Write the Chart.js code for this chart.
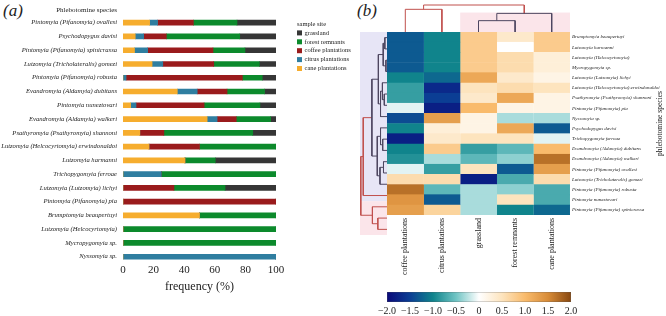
<!DOCTYPE html>
<html lang="en">
<head>
<meta charset="UTF-8">
<title>Phlebotomine species by sample site</title>
<script src="https://cdn.jsdelivr.net/npm/chart.js"></script>
<style>
    body { margin: 0; background: #fff; width: 666px; height: 316px; overflow: hidden; position: relative; font-family: "Liberation Serif", serif; }
    canvas { position: absolute; }
    .panel-tag { position: absolute; font-style: italic; font-size: 17px; color: #222; }
</style>
</head>
<body>
<div class="panel-tag" style="left:3px; top:1px;">(a)</div>
<div class="panel-tag" style="left:357px; top:1px;">(b)</div>
<canvas id="barChart" width="390" height="316" style="left:0; top:0;"></canvas>
<canvas id="colDendro" width="200" height="40" style="left:380px; top:0;"></canvas>
<canvas id="rowDendro" width="40" height="230" style="left:355px; top:20px;"></canvas>
<canvas id="heatChart" width="286" height="270" style="left:380px; top:20px;"></canvas>
<canvas id="colorBar" width="230" height="32" style="left:370px; top:284px;"></canvas>
<script>
// ---- panel (a): frequency of each species per sample site ----
const barSpecies = [
    'Pintomyia (Pifanomyia) ovallesi', 'Psychodopygus davisi', 'Pintomyia (Pifanomyia) spinicrassa',
    'Lutzomyia (Tricholateralis) gomezi', 'Pintomyia (Pifanomyia) robusta', 'Evandromyia (Aldamyia) dubitans',
    'Pintomyia nuneztovari', 'Evandromyia (Aldamyia) walkeri', 'Psathyromyia (Psathyromyia) shannoni',
    'Lutzomyia (Helcocyrtomyia) erwindonaldoi', 'Lutzomyia harmanni', 'Trichopygomyia ferroae',
    'Lutzomyia (Lutzomyia) lichyi', 'Pintomyia (Pifanomyia) pia', 'Brumptomyia beaupertuyi',
    'Lutzomyia (Helcocyrtomyia)', 'Mycropygomyia sp.', 'Nyssomyia sp.'
];
const caneFreq      = [17.4, 8.0, 7.5, 19.0, 0, 35.5, 5.0, 55.0, 11.0, 17.0, 40.5, 0, 0, 0, 50, 0, 0, 0];
const citrusFreq    = [5.2, 5.5, 8.6, 7.0, 2.0, 13.0, 3.5, 6.5, 0, 0, 0, 25, 0, 0, 0, 0, 0, 100];
const coffeeFreq    = [23.4, 14.8, 42.7, 33.3, 76.0, 19.5, 44.5, 12.5, 15.7, 33.0, 0, 0, 33.3, 100, 0, 0, 0, 0];
const forestFreq    = [28.5, 48.0, 20.9, 29.8, 13.0, 24.5, 36.5, 22.5, 58.1, 50.0, 19.8, 75, 33.4, 0, 50, 100, 100, 0];
const grasslandFreq = [25.5, 23.7, 20.3, 10.9, 9.0, 7.5, 10.5, 3.5, 15.2, 0, 39.7, 0, 33.3, 0, 0, 0, 0, 0];
const freqTicks = [0, 20, 40, 60, 80, 100];

// ---- panel (b): standardised abundance, clustered ----
const heatSpecies = [
    'Brumptomyia beaupertuyi', 'Lutzomyia harmanni', 'Lutzomyia (Helcocyrtomyia)', 'Mycropygomyia sp.',
    'Lutzomyia (Lutzomyia) lichyi', 'Lutzomyia (Helcocyrtomyia) erwindonaldoi', 'Psathyromyia (Psathyromyia) shannoni',
    'Pintomyia (Pifanomyia) pia', 'Nyssomyia sp.', 'Psychodopygus davisi', 'Trichopygomyia ferroae',
    'Evandromyia (Aldamyia) dubitans', 'Evandromyia (Aldamyia) walkeri', 'Pintomyia (Pifanomyia) ovallesi',
    'Lutzomyia (Tricholateralis) gomezi', 'Pintomyia (Pifanomyia) robusta', 'Pintomyia nuneztovari',
    'Pintomyia (Pifanomyia) spinicrassa'
];
const heatSites = ['coffee plantations', 'citrus plantations', 'grassland', 'forest remnants', 'cane plantations'];
const coffeeZ = [-1.3, -1.3, -1.3, -1.3, -1.0, -0.8, -0.8, -0.1, -1.4, -1.0, -1.8, -1.0, -0.9, -0.1, 0.6, 1.7, 1.4, 1.3];
const citrusZ = [-1.0, -1.0, -1.0, -1.0, -1.2, -1.7, -1.5, -1.8, 1.3, 0.3, 0.4, 0.8, -0.3, -0.8, 0.6, -0.6, -1.3, 0.7];
const grassZ  = [0.8, 0.8, 0.8, 0.8, 1.2, 0.5, 0.4, 1.0, 0.2, 0.2, 0.5, -0.8, -0.6, 0.5, -1.8, -0.3, -0.3, -0.3];
const forestZ = [0.4, 0.0, 0.6, 0.6, 0.4, 0.6, 1.2, 0.2, -0.3, 1.2, 0.5, -0.6, -0.4, -1.3, -0.7, -0.4, 0.5, -1.0];
const caneZ   = [0.8, 0.8, 0.3, 0.3, 0.2, 0.5, 0.2, 0.2, -0.3, -1.3, -0.1, 1.0, 1.7, 1.3, 0.6, -0.7, -0.7, -1.2];
const colorbarTicks = [-2, -1.5, -1, -0.5, 0, 0.5, 1, 1.5, 2];

// dendrograms: [childA, childB, height, colour]; children >= n are earlier merges
const RED = '#c0504d', DARK = '#4d4660';
const siteLinks = [
    [2, 3, 4.2, DARK], [5, 4, 6.9, DARK], [0, 1, 8.4, RED], [7, 6, 10, RED]
];
const speciesLinks = [
    [2, 3, 0.4, DARK], [0, 1, 0.8, DARK], [19, 18, 1.4, DARK],
    [5, 6, 1.0, DARK], [4, 21, 1.7, DARK], [22, 7, 2.4, DARK], [20, 23, 3.2, DARK],
    [9, 10, 1.6, DARK], [8, 25, 2.4, DARK], [11, 12, 1.3, DARK], [27, 13, 2.6, DARK],
    [26, 28, 3.6, DARK], [24, 29, 5.6, DARK], [30, 14, 8.8, RED],
    [16, 17, 3.4, RED], [15, 32, 5.4, RED], [31, 33, 9.7, RED]
];

Chart.defaults.font.family = '"Liberation Serif", "Times New Roman", serif';
Chart.defaults.color = '#222';
Chart.defaults.animation = false;
Chart.defaults.plugins.legend.display = false;
Chart.defaults.plugins.tooltip.enabled = false;

// ---------- panel (a) ----------
const sideLegend = {
    id: 'sideLegend',
    afterDraw(chart, args, opts) {
        const { ctx, chartArea, scales } = chart;
        ctx.save();
        ctx.textBaseline = 'middle';
        ctx.font = '7px "Liberation Serif"';
        ctx.fillStyle = '#222';
        ctx.textAlign = 'right';
        ctx.fillText('Phlebotomine species', scales.y.right - 6, 10);
        ctx.textAlign = 'left';
        ctx.font = '6.5px "Liberation Serif"';
        const x = chartArea.right + 21;
        let y = 24;
        ctx.fillText('sample site', x, y);
        chart.data.datasets.slice().reverse().forEach(d => {
            y += 8.9;
            ctx.fillStyle = d.backgroundColor;
            ctx.fillRect(x, y - 2.5, 5, 5);
            ctx.fillStyle = '#222';
            ctx.fillText(d.label, x + 7.5, y);
        });
        ctx.restore();
    }
};

new Chart(document.getElementById('barChart'), {
    type: 'bar',
    data: {
        labels: barSpecies,
        datasets: [
            { label: 'cane plantations', data: caneFreq, backgroundColor: '#f6ad2e' },
            { label: 'citrus plantations', data: citrusFreq, backgroundColor: '#2f7ea0' },
            { label: 'coffee plantations', data: coffeeFreq, backgroundColor: '#9a1b1c' },
            { label: 'forest remnants', data: forestFreq, backgroundColor: '#0c8a2c' },
            { label: 'grassland', data: grasslandFreq, backgroundColor: '#363636' }
        ]
    },
    options: {
        responsive: false,
        indexAxis: 'y',
        barThickness: 5,
        layout: { padding: { top: 15.8, right: 114, left: 0, bottom: 0 } },
        scales: {
            x: {
                stacked: true, min: 0, max: 100,
                afterBuildTicks: s => { s.ticks = freqTicks.map(v => ({ value: v })); },
                grid: { display: false, drawTicks: false }, border: { display: false },
                ticks: { font: { size: 11 }, padding: 0 },
                title: { display: true, text: 'frequency (%)', font: { size: 12 }, padding: { top: 0, bottom: 22 } },
                afterFit: s => { s.height = 52.4; }
            },
            y: {
                stacked: true,
                grid: { display: false, drawTicks: false }, border: { display: false },
                ticks: { autoSkip: false, font: { size: 6.6, style: 'italic' }, padding: 6 },
                afterFit: s => { s.width = 123; }
            }
        }
    },
    plugins: [sideLegend]
});

// ---------- panel (b) ----------
const zStops = [
    [-2, [10, 10, 122]], [-1.5, [11, 62, 148]], [-1, [16, 132, 140]], [-0.5, [112, 196, 196]],
    [0, [255, 255, 255]], [0.5, [253, 228, 190]], [1, [249, 187, 108]], [1.5, [216, 140, 56]], [2, [136, 72, 16]]
];
function zColor(z) {
    z = Math.max(-2, Math.min(2, z));
    for (let i = 1; i < zStops.length; i++) {
        if (z <= zStops[i][0]) {
            const [z0, c0] = zStops[i - 1], [z1, c1] = zStops[i];
            const t = (z - z0) / (z1 - z0);
            const c = c0.map((v, k) => Math.round(v + (c1[k] - v) * t));
            return `rgb(${c[0]},${c[1]},${c[2]})`;
        }
    }
}

function dendrogram(nLeaves, links) {
    const pos = [], hgt = [];
    for (let i = 0; i < nLeaves; i++) { pos.push(i + 0.5); hgt.push(0); }
    return links.map(([a, b, h, color]) => {
        const pts = [[pos[a], hgt[a]], [pos[a], h], [pos[b], h], [pos[b], hgt[b]]];
        pos.push((pos[a] + pos[b]) / 2);
        hgt.push(h);
        return { pts, color };
    });
}

const clusterBg = {
    id: 'clusterBg',
    beforeDatasetsDraw(chart, args, opts) {
        const { ctx, chartArea, scales } = chart;
        ctx.save();
        opts.bands.forEach(([from, to, color]) => {
            ctx.fillStyle = color;
            if (opts.axis === 'y') {
                const y0 = scales.y.getPixelForValue(from), y1 = scales.y.getPixelForValue(to);
                ctx.fillRect(chartArea.left, y0, chartArea.right - chartArea.left, y1 - y0);
            } else {
                const x0 = scales.x.getPixelForValue(from), x1 = scales.x.getPixelForValue(to);
                const yTop = scales.y.getPixelForValue(opts.hmax);
                ctx.fillRect(x0, yTop, x1 - x0, chartArea.bottom - yTop);
            }
        });
        ctx.restore();
    }
};

// column dendrogram (sites)
new Chart(document.getElementById('colDendro'), {
    type: 'scatter',
    data: {
        datasets: dendrogram(heatSites.length, siteLinks).map(l => ({
            data: l.pts.map(([p, h]) => ({ x: p, y: h })),
            showLine: true, borderColor: l.color, borderWidth: 1, pointRadius: 0, clip: false
        }))
    },
    options: {
        responsive: false,
        layout: { padding: { left: 7, right: 10, top: 5, bottom: 8 } },
        scales: {
            x: { display: false, min: 0, max: heatSites.length },
            y: { display: false, min: 0, max: 10 }
        },
        plugins: { clusterBg: { axis: 'x', hmax: 7.2, bands: [[2, 5, '#fbe5ea']] } }
    },
    plugins: [clusterBg]
});

// row dendrogram (species)
new Chart(document.getElementById('rowDendro'), {
    type: 'scatter',
    data: {
        datasets: dendrogram(heatSpecies.length, speciesLinks).map(l => ({
            data: l.pts.map(([p, h]) => ({ x: h, y: p })),
            showLine: true, borderColor: l.color, borderWidth: 1, pointRadius: 0, clip: false
        }))
    },
    options: {
        responsive: false,
        layout: { padding: { left: 5, right: 8, top: 12, bottom: 15 } },
        scales: {
            x: { display: false, min: 0, max: 10, reverse: true },
            y: { display: false, min: 0, max: heatSpecies.length, reverse: true }
        },
        plugins: { clusterBg: { axis: 'y', bands: [[0, 15, '#e7e5f6'], [15, 18, '#fbe5ea']] } }
    },
    plugins: [clusterBg]
});

// heatmap: one stacked bar per site column, one unit per species row
const rightTitle = {
    id: 'rightTitle',
    afterDraw(chart) {
        const { ctx, chartArea } = chart;
        ctx.save();
        ctx.translate(chart.width - 6, (chartArea.top + chartArea.bottom) / 2);
        ctx.rotate(-Math.PI / 2);
        ctx.font = '7.5px "Liberation Serif"';
        ctx.fillStyle = '#222';
        ctx.textAlign = 'center';
        ctx.textBaseline = 'middle';
        ctx.fillText('phlebotomine species', 0, 0);
        ctx.restore();
    }
};
const siteZ = [coffeeZ, citrusZ, grassZ, forestZ, caneZ];
new Chart(document.getElementById('heatChart'), {
    type: 'bar',
    data: {
        labels: heatSpecies,
        datasets: siteZ.map((zs, i) => ({
            label: heatSites[i],
            data: zs.map(() => 1),
            backgroundColor: zs.map(zColor),
            borderColor: zs.map(zColor),
            borderWidth: 0.4,
            barPercentage: 1, categoryPercentage: 1
        }))
    },
    options: {
        responsive: false,
        indexAxis: 'y',
        layout: { padding: { left: 7, top: 12, right: 0, bottom: 0 } },
        scales: {
            x: {
                stacked: true, min: 0, max: heatSites.length,
                afterBuildTicks: s => { s.ticks = heatSites.map((_, i) => ({ value: i + 0.5 })); },
                grid: { display: false, drawTicks: false }, border: { display: false },
                ticks: {
                    autoSkip: false, minRotation: 90, maxRotation: 90, padding: 3,
                    font: { size: 8 }, callback: v => heatSites[Math.floor(v)]
                },
                afterFit: s => { s.height = 75; }
            },
            y: {
                stacked: true, position: 'right',
                grid: { display: false, drawTicks: false }, border: { display: false },
                ticks: { autoSkip: false, padding: 2, font: { size: 5, style: 'italic' } },
                afterFit: s => { s.width = 96; }
            }
        }
    },
    plugins: [rightTitle]
});

// colour bar
new Chart(document.getElementById('colorBar'), {
    type: 'bar',
    data: {
        labels: [''],
        datasets: [{
            data: [[colorbarTicks[0], colorbarTicks[colorbarTicks.length - 1]]],
            backgroundColor: c => {
                const ca = c.chart.chartArea;
                if (!ca) return '#fff';
                const g = c.chart.ctx.createLinearGradient(ca.left, 0, ca.right, 0);
                zStops.forEach(([z, col]) => g.addColorStop((z + 2) / 4, `rgb(${col.join(',')})`));
                return g;
            },
            borderColor: '#555', borderWidth: 0.6, borderSkipped: false,
            barPercentage: 1, categoryPercentage: 1
        }]
    },
    options: {
        responsive: false,
        indexAxis: 'y',
        layout: { padding: { left: 17, right: 29, top: 8, bottom: 0 } },
        scales: {
            x: {
                min: -2, max: 2,
                afterBuildTicks: s => { s.ticks = colorbarTicks.map(v => ({ value: v })); },
                grid: { display: false, drawTicks: false }, border: { display: false },
                ticks: {
                    padding: 3, font: { size: 10 },
                    callback: v => v === 0 ? '0' : (v < 0 ? '\u2212' : '') + Math.abs(v).toFixed(1)
                },
                afterFit: s => { s.height = 14; }
            },
            y: { display: false }
        }
    }
});
</script>
</body>
</html>
